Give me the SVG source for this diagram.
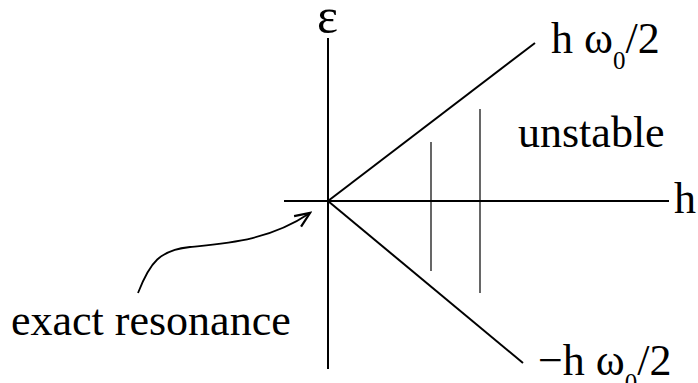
<svg xmlns="http://www.w3.org/2000/svg" width="698" height="383" viewBox="0 0 698 383">
<style>
.ax{stroke:#000;stroke-width:2;fill:none}
.thin{stroke:#000;stroke-width:1.2;fill:none}
.t{font-family:"Liberation Serif","Times New Roman",serif;font-size:44px;fill:#000}
.sub{font-size:25px}
</style>
<defs>
<marker id="ah" markerUnits="userSpaceOnUse" markerWidth="20" markerHeight="20" refX="0" refY="0" viewBox="-14 -8 16 16" orient="auto">
<path d="M-12,-5 L0,0 L-12,5" stroke="#000" stroke-width="1.8" fill="none"/>
</marker>
</defs>
<g id="connectors">
<line class="ax" x1="328" y1="38" x2="328" y2="369"/>
<line class="ax" x1="284" y1="201" x2="669" y2="201"/>
<line class="ax" x1="328" y1="201" x2="535" y2="43"/>
<line class="ax" x1="328" y1="201" x2="523" y2="363"/>
<line class="thin" x1="431" y1="142" x2="431" y2="271"/>
<line class="thin" x1="480" y1="109" x2="480" y2="293"/>
<path class="thin" style="stroke-width:1.8" d="M138,293 C150,262 160,250 190,247 C230,243 270,240 310,213" marker-end="url(#ah)"/>
</g>
<g id="label-eps"><text class="t" x="317" y="33" style="font-size:50px">ε</text></g>
<g id="label-upper"><text class="t" x="551" y="53">h ω<tspan class="sub" dy="16">0</tspan><tspan dy="-16">/2</tspan></text></g>
<g id="label-lower"><text class="t" x="538" y="375">−h ω<tspan class="sub" dy="16">0</tspan><tspan dy="-16">/2</tspan></text></g>
<g id="label-unstable"><text class="t" x="518" y="147">unstable</text></g>
<g id="label-h"><text class="t" x="674" y="213">h</text></g>
<g id="label-exact"><text class="t" x="11" y="335">exact resonance</text></g>
</svg>
